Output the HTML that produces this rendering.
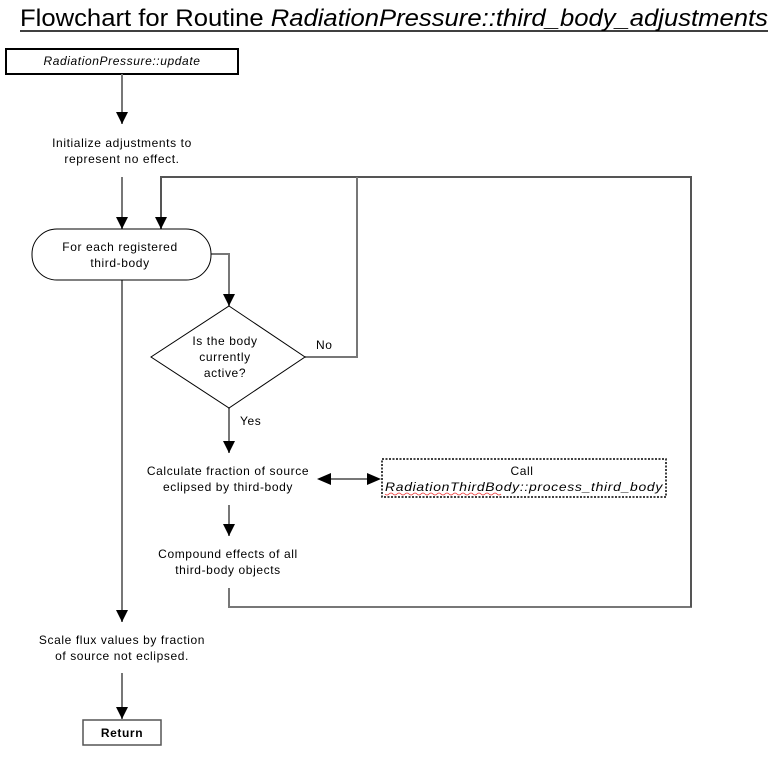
<!DOCTYPE html>
<html><head><meta charset="utf-8"><style>
html,body{margin:0;padding:0;background:#fff;}
svg{display:block;}
text{font-family:"Liberation Sans",sans-serif;font-size:12px;letter-spacing:0.6px;fill:#000;}
</style></head><body>
<svg width="778" height="759" viewBox="0 0 778 759" xmlns="http://www.w3.org/2000/svg">
<defs>
<marker id="b" markerWidth="12" markerHeight="12" refX="12" refY="6" orient="auto" markerUnits="userSpaceOnUse">
<path d="M0,0 L12,6 L0,12 Z" fill="#000"/></marker>
</defs>
<text x="20" y="26" style="font-size:24px;letter-spacing:0" textLength="748" lengthAdjust="spacingAndGlyphs">Flowchart for Routine <tspan font-style="italic">RadiationPressure::third_body_adjustments</tspan></text>
<line x1="20" y1="31" x2="768" y2="31" stroke="#000" stroke-width="1.5"/>

<rect x="6" y="49" width="232" height="25" fill="#fff" stroke="#000" stroke-width="2"/>
<text x="122" y="65" text-anchor="middle" font-style="italic">RadiationPressure::update</text>

<g stroke="#777" stroke-width="2" fill="none">
<line x1="122" y1="74" x2="122" y2="124" marker-end="url(#b)"/>
<line x1="122" y1="177" x2="122" y2="229" marker-end="url(#b)"/>
<polyline points="691,588 691,607 229,607 229,588"/>
<polyline points="691,607 691,177 161,177 161,229" stroke="#555" marker-end="url(#b)"/>
<polyline points="357,177 357,357 305,357"/>
<polyline points="211,254 229,254 229,306" marker-end="url(#b)"/>
<line x1="122" y1="280" x2="122" y2="622" marker-end="url(#b)"/>
<line x1="229" y1="408" x2="229" y2="453" marker-end="url(#b)"/>
<line x1="229" y1="505" x2="229" y2="536" marker-end="url(#b)"/>
<line x1="122" y1="673" x2="122" y2="719" marker-end="url(#b)"/>
<line x1="330" y1="479" x2="368" y2="479"/>
</g>
<path d="M317,479 L331,473 L331,485 Z" fill="#000"/>
<path d="M381,479 L367,473 L367,485 Z" fill="#000"/>

<text x="122" y="147" text-anchor="middle">Initialize adjustments to</text>
<text x="122" y="163" text-anchor="middle">represent no effect.</text>

<rect x="32" y="229" width="179" height="51" rx="25" ry="25" fill="#fff" stroke="#000" stroke-width="1"/>
<text x="120" y="251" text-anchor="middle">For each registered</text>
<text x="120" y="267" text-anchor="middle">third-body</text>

<polygon points="229,306 305,357 229,408 151,357" fill="#fff" stroke="#000" stroke-width="1"/>
<text x="225" y="345" text-anchor="middle">Is the body</text>
<text x="225" y="361" text-anchor="middle">currently</text>
<text x="225" y="377" text-anchor="middle">active?</text>
<text x="316" y="349">No</text>
<text x="240" y="425">Yes</text>

<text x="228" y="475" text-anchor="middle">Calculate fraction of source</text>
<text x="228" y="491" text-anchor="middle">eclipsed by third-body</text>

<rect x="382" y="459" width="284" height="38" fill="#fff" stroke="#000" stroke-width="1.5" stroke-dasharray="2,1.5"/>
<text x="522" y="475" text-anchor="middle">Call</text>
<text x="385" y="491" font-style="italic" textLength="278" lengthAdjust="spacingAndGlyphs">RadiationThirdBody::process_third_body</text>
<path d="M385,494 q2,2 4,0 t4,0 t4,0 t4,0 t4,0 t4,0 t4,0 t4,0 t4,0 t4,0 t4,0 t4,0 t4,0 t4,0 t4,0 t4,0 t4,0 t4,0 t4,0 t4,0 t4,0 t4,0 t4,0 t4,0 t4,0 t4,0 t4,0 t4,0 t4,0" fill="none" stroke="#e33" stroke-width="0.8"/>

<text x="228" y="558" text-anchor="middle">Compound effects of all</text>
<text x="228" y="574" text-anchor="middle">third-body objects</text>

<text x="122" y="644" text-anchor="middle">Scale flux values by fraction</text>
<text x="122" y="660" text-anchor="middle">of source not eclipsed.</text>

<rect x="83" y="720" width="78" height="25" fill="#fff" stroke="#555" stroke-width="1.5"/>
<text x="122" y="737" text-anchor="middle" font-weight="bold">Return</text>
</svg>
</body></html>
